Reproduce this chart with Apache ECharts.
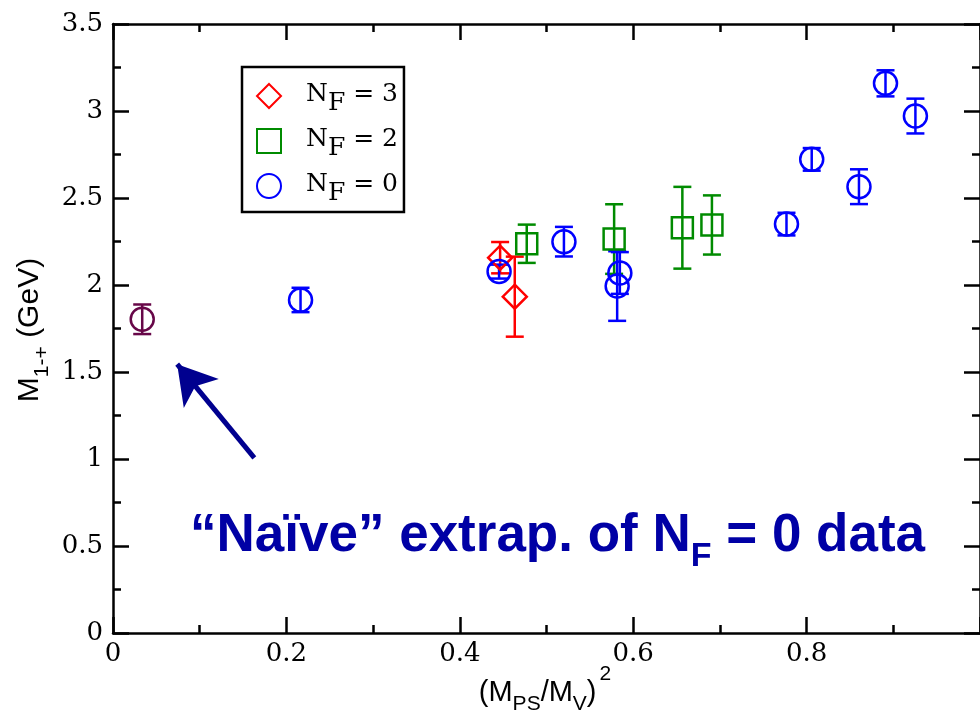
<!DOCTYPE html>
<html>
<head>
<meta charset="utf-8">
<script src="https://cdn.jsdelivr.net/npm/echarts@6/dist/echarts.min.js"></script>
<style>html,body{margin:0;padding:0;background:#fff;}#c{width:980px;height:718px;}</style>
</head>
<body>
<div id="c"></div>
<script>
// ---- data ----
const xTicks = [0, 0.2, 0.4, 0.6, 0.8];
const yTicks = [0, 0.5, 1, 1.5, 2, 2.5, 3, 3.5];

const nf3Name = 'NF = 3';
const nf3X = [0.4465, 0.4634];
const nf3Y = [2.157, 1.933];
const nf3Err = [0.09, 0.23];

const nf2Name = 'NF = 2';
const nf2X = [0.4772, 0.5780, 0.6567, 0.6908];
const nf2Y = [2.237, 2.264, 2.329, 2.345];
const nf2Err = [0.11, 0.20, 0.235, 0.17];

const nf0Name = 'NF = 0';
const nf0X = [0.2163, 0.4453, 0.5201, 0.5815, 0.5846, 0.7768, 0.8059, 0.8604, 0.8910, 0.9255];
const nf0Y = [1.914, 2.077, 2.249, 1.994, 2.069, 2.350, 2.722, 2.565, 3.159, 2.971];
const nf0Err = [0.07, 0.04, 0.085, 0.20, 0.12, 0.065, 0.065, 0.10, 0.075, 0.10];

const extrapName = 'extrapolated';
const extrapX = [0.0337];
const extrapY = [1.803];
const extrapErr = [0.085];

// annotation arrow (data coords): tail -> tip
const arrowTail = [0.163, 1.006];
const arrowTip = [0.074, 1.545];

// ---- helpers ----
function pts(xs, ys) { return xs.map((x, i) => [x, ys[i]]); }
function errPts(xs, ys, es) { return xs.map((x, i) => [x, ys[i], es[i]]); }

function errSeries(name, xs, ys, es, color) {
  return {
    type: 'custom',
    name: name + '_err',
    silent: true,
    z: 3,
    data: errPts(xs, ys, es),
    encode: { x: 0, y: 1 },
    renderItem: function (params, api) {
      const x = api.value(0), y = api.value(1), e = api.value(2);
      const lo = api.coord([x, y - e]);
      const hi = api.coord([x, y + e]);
      const w = 9;
      const st = { stroke: color, lineWidth: 2.5, fill: null };
      return {
        type: 'group',
        children: [
          { type: 'line', shape: { x1: lo[0], y1: lo[1], x2: hi[0], y2: hi[1] }, style: st },
          { type: 'line', shape: { x1: lo[0] - w, y1: lo[1], x2: lo[0] + w, y2: lo[1] }, style: st },
          { type: 'line', shape: { x1: hi[0] - w, y1: hi[1], x2: hi[0] + w, y2: hi[1] }, style: st }
        ]
      };
    }
  };
}

function markerSeries(name, xs, ys, color, symbol, size) {
  return {
    type: 'scatter',
    name: name,
    symbol: symbol,
    symbolSize: size,
    z: 4,
    data: pts(xs, ys),
    itemStyle: { color: 'rgba(255,255,255,0)', borderColor: color, borderWidth: 2.5, opacity: 1 },
    emphasis: { disabled: true }
  };
}

const RED = '#ff0000', GREEN = '#008b00', BLUE = '#0000ff', MAROON = '#670748';
const NAVY = '#00008f';

const chart = echarts.init(document.getElementById('c'), null, { renderer: 'canvas' });

const axisCommon = {
  axisLine: { show: true, onZero: false, lineStyle: { color: '#000', width: 2.5 } },
  axisTick: { show: true, inside: true, length: 16, lineStyle: { color: '#000', width: 2.5 } },
  minorTick: { show: true, splitNumber: 2, length: 8, lineStyle: { color: '#000', width: 2.5 } },
  splitLine: { show: false }
};

const legendRich = {
  n: { fontFamily: 'DejaVu Serif', fontSize: 25, color: '#000', verticalAlign: 'top', lineHeight: 28 },
  s: { fontFamily: 'DejaVu Serif', fontSize: 25, color: '#000', verticalAlign: 'top', lineHeight: 28, padding: [9, 0, 0, 0] }
};

const extrapSeries = markerSeries(extrapName, extrapX, extrapY, MAROON, 'circle', 23);
extrapSeries.markLine = {
  silent: true,
  symbol: ['none', 'arrow'],
  symbolSize: [34, 38],
  label: { show: false },
  lineStyle: { color: NAVY, width: 5, type: 'solid' },
  animation: false,
  data: [[{ coord: arrowTail }, { coord: arrowTip }]]
};

chart.setOption({
  animation: false,
  backgroundColor: '#fff',
  grid: { left: 113, top: 24, width: 869, height: 609, containLabel: false },
  xAxis: [
    Object.assign({
      type: 'value', position: 'bottom', min: 0, max: 1, interval: 0.2,
      axisLabel: {
        show: true, margin: 8, fontFamily: 'DejaVu Serif', fontSize: 26, color: '#000',
        showMaxLabel: false,
        formatter: function (v) { const t = xTicks.find(a => Math.abs(a - v) < 1e-9); return t === undefined ? '' : String(t); }
      }
    }, axisCommon),
    Object.assign({
      type: 'value', position: 'top', min: 0, max: 1, interval: 0.2,
      axisLabel: { show: false }
    }, axisCommon)
  ],
  yAxis: [
    Object.assign({
      type: 'value', position: 'left', min: 0, max: 3.5, interval: 0.5,
      axisLabel: {
        show: true, margin: 10, fontFamily: 'DejaVu Serif', fontSize: 26, color: '#000',
        formatter: function (v) { const t = yTicks.find(a => Math.abs(a - v) < 1e-9); return t === undefined ? '' : String(t); }
      }
    }, axisCommon),
    Object.assign({
      type: 'value', position: 'right', min: 0, max: 3.5, interval: 0.5,
      axisLabel: { show: false }
    }, axisCommon)
  ],
  legend: {
    data: [nf3Name, nf2Name, nf0Name],
    orient: 'vertical',
    left: 242, top: 67,
    padding: [15, 6, 6, 14],
    itemGap: 11,
    itemWidth: 24, itemHeight: 24,
    borderColor: '#000', borderWidth: 2.5, borderRadius: 0,
    backgroundColor: '#fff',
    selectedMode: false,
    textStyle: { padding: [0, 0, 0, 20], rich: legendRich },
    formatter: function (name) {
      const v = name.split('= ')[1];
      return '{n|N}{s|F}{n| = ' + v + '}';
    }
  },
  series: [
    errSeries(nf3Name, nf3X, nf3Y, nf3Err, RED),
    errSeries(nf2Name, nf2X, nf2Y, nf2Err, GREEN),
    errSeries(nf0Name, nf0X, nf0Y, nf0Err, BLUE),
    errSeries(extrapName, extrapX, extrapY, extrapErr, MAROON),
    markerSeries(nf3Name, nf3X, nf3Y, RED, 'diamond', 24),
    markerSeries(nf2Name, nf2X, nf2Y, GREEN, 'rect', 21),
    markerSeries(nf0Name, nf0X, nf0Y, BLUE, 'circle', 23),
    extrapSeries
  ],
  graphic: [
    {
      type: 'text', x: 190, y: 510, z: 10, silent: true,
      style: {
        text: '{b|\u201cNa\u00efve\u201d extrap. of N}{sb|F}{b| = 0 data}',
        rich: {
          b: { fontFamily: 'Liberation Sans', fontWeight: 'bold', fontSize: 53, fill: '#0000a5', verticalAlign: 'top', lineHeight: 56 },
          sb: { fontFamily: 'Liberation Sans', fontWeight: 'bold', fontSize: 34, fill: '#0000a5', verticalAlign: 'top', lineHeight: 36, padding: [30, 0, 0, 0] }
        }
      }
    },
    {
      type: 'text', x: 545, y: 680, z: 10, silent: true,
      style: {
        text: '{n|(M}{s|PS}{n|/M}{s|V}{n|)}{p|2}',
        align: 'center', verticalAlign: 'middle',
        rich: {
          n: { fontFamily: 'Liberation Sans', fontSize: 29, fill: '#000', verticalAlign: 'top', lineHeight: 32, padding: [14, 0, 0, 0] },
          s: { fontFamily: 'Liberation Sans', fontSize: 21, fill: '#000', verticalAlign: 'top', lineHeight: 24, padding: [30, 0, 0, 0] },
          p: { fontFamily: 'Liberation Sans', fontSize: 21, fill: '#000', verticalAlign: 'top', lineHeight: 24, padding: [0, 0, 0, 3] }
        }
      }
    },
    {
      type: 'text', x: 31, y: 330, rotation: Math.PI / 2, z: 10, silent: true,
      style: {
        text: '{n|M}{s|1-+}{n| (GeV)}',
        align: 'center', verticalAlign: 'middle',
        rich: {
          n: { fontFamily: 'Liberation Sans', fontSize: 30, fill: '#000', verticalAlign: 'top', lineHeight: 32 },
          s: { fontFamily: 'Liberation Sans', fontSize: 21, fill: '#000', verticalAlign: 'top', lineHeight: 23, padding: [17, 0, 0, 0] }
        }
      }
    }
  ]
});
</script>
</body>
</html>
